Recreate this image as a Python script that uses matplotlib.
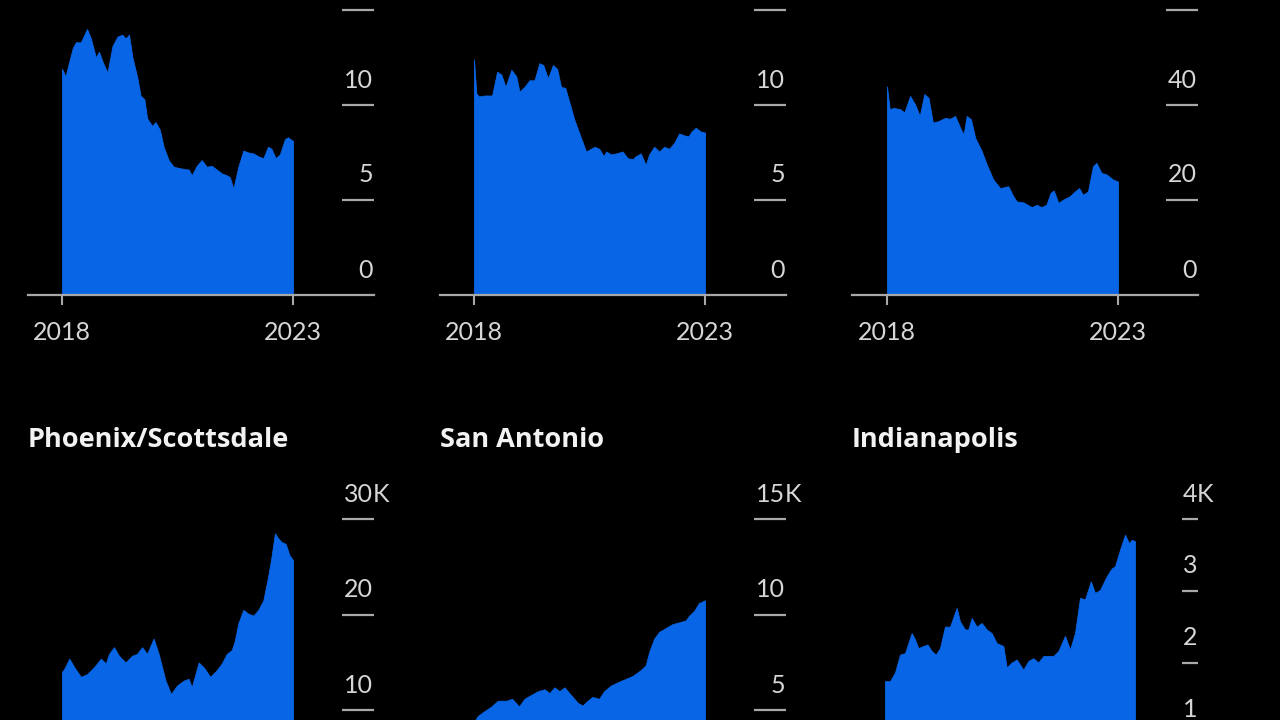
import matplotlib
matplotlib.use("Agg")
import matplotlib.pyplot as plt
import matplotlib.transforms as mtransforms

W, H = 1280, 720
BLUE = '#0866e6'
GRID = '#a8a8a8'
TEXT = '#d6d6d6'

plt.rcParams['font.family'] = ['Lato', 'DejaVu Sans']

# --- datos (meses desde ene-2018, valor) ---
m1 = [0, 0.9, 1.9, 2.8, 3.6, 4.9, 6.5, 7.5, 8.8, 9.6, 10.5, 11.8, 13.1, 14.4, 15.7, 16.5, 17.4,
      18.3, 19.5, 20.4, 21.4, 22.1, 23.4, 24.3, 25.4, 26.4, 27.7, 29.0, 30.7, 32.9, 33.7, 35.0,
      36.3, 37.6, 38.9, 40.2, 41.5, 42.8, 43.6, 44.5, 45.8, 47.1, 48.4, 49.7, 51.0, 52.3, 53.5,
      54.4, 55.5, 56.6, 57.9, 58.7, 60]
v1 = [11.9, 11.5, 12.3, 13.0, 13.3, 13.3, 14.0, 13.5, 12.5, 12.8, 12.3, 11.7, 13.1, 13.6, 13.7,
      13.5, 13.7, 12.5, 11.5, 10.5, 10.3, 9.3, 8.9, 9.1, 8.7, 7.8, 7.1, 6.75, 6.67, 6.6, 6.3,
      6.8, 7.1, 6.75, 6.8, 6.6, 6.4, 6.3, 6.2, 5.6, 6.75, 7.6, 7.5, 7.45, 7.3, 7.2, 7.8, 7.7,
      7.2, 7.4, 8.2, 8.3, 8.1]

m2 = [0, 0.6, 1.3, 2.8, 4.7, 6.0, 7.1, 8.2, 9.7, 11.0, 11.8, 13.1, 14.4, 15.7, 17.0, 18.0, 19.2,
      20.5, 21.6, 22.6, 23.7, 26.1, 29.1, 31.3, 32.5, 33.7, 34.3, 35.6, 36.9, 38.6, 39.9, 41.2,
      42.0, 43.3, 44.6, 45.5, 46.8, 48.1, 49.4, 50.7, 52.0, 53.3, 54.6, 55.7, 56.5, 57.6, 58.9, 60]
v2 = [12.4, 10.6, 10.45, 10.5, 10.5, 11.75, 11.6, 10.95, 11.85, 11.5, 10.7, 10.95, 11.3, 11.3,
      12.2, 12.1, 11.4, 12.1, 11.9, 10.95, 10.9, 9.2, 7.55, 7.8, 7.7, 7.3, 7.55, 7.4, 7.45, 7.55,
      7.2, 7.15, 7.3, 7.45, 6.85, 7.4, 7.8, 7.55, 7.8, 7.7, 8.0, 8.5, 8.4, 8.35, 8.6, 8.8, 8.6, 8.55]

m3 = [0, 0.7, 1.7, 3.5, 4.5, 6.0, 7.3, 8.5, 9.7, 10.8, 11.9, 13.4, 15.1, 16.4, 17.7, 19.0, 19.9,
      20.7, 21.8, 22.9, 24.6, 25.9, 27.6, 29.4, 31.5, 32.8, 33.7, 35.4, 37.6, 38.9, 40.1, 41.4,
      42.5, 43.3, 44.5, 45.8, 47.5, 48.8, 49.9, 50.9, 52.2, 53.5, 54.4, 55.7, 57.0, 58.7, 60]
v3 = [43.9, 39.1, 39.4, 39.1, 38.4, 41.9, 40.1, 37.7, 42.3, 41.5, 36.3, 36.6, 37.3, 37.1, 37.7,
      35.2, 33.8, 37.7, 37.0, 33.1, 30.3, 27.5, 24.3, 22.5, 22.9, 20.8, 19.7, 19.5, 18.5, 19.0,
      18.5, 19.0, 21.5, 22.0, 19.4, 20.1, 20.8, 21.8, 22.5, 21.1, 21.8, 27.1, 27.8, 25.7, 25.4,
      24.3, 23.9]

m4 = [0, 0.6, 1.9, 3.2, 4.9, 6.6, 8.3, 10.1, 11.4, 12.2, 13.5, 14.8, 16.5, 18.2, 19.5, 20.8,
      22.1, 23.8, 25.1, 26.9, 28.3, 29.9, 31.6, 32.9, 33.7, 35.5, 36.8, 38.5, 40.2, 41.5, 42.8,
      44.1, 44.9, 45.8, 47.1, 48.4, 49.7, 51.0, 52.3, 53.5, 54.4, 55.3, 56.1, 57.0, 58.1, 59.1, 60]
v4 = [14.0, 14.35, 15.4, 14.5, 13.5, 13.8, 14.5, 15.4, 14.9, 15.9, 16.6, 15.7, 15.0, 15.7, 15.9,
      16.6, 15.9, 17.5, 15.9, 13.1, 11.7, 12.6, 13.1, 13.3, 12.4, 15.0, 14.5, 13.5, 14.2, 14.9,
      15.9, 16.3, 17.3, 19.1, 20.5, 20.1, 19.9, 20.5, 21.5, 23.9, 26.0, 28.5, 28.0, 27.6, 27.4,
      26.2, 25.7]

m5 = [0, 1.0, 2.3, 4.5, 6.2, 8.4, 9.9, 11.7, 13.1, 14.8, 16.6, 18.3, 19.6, 20.9, 22.2, 23.5,
      25.2, 26.9, 28.2, 29.5, 30.8, 32.5, 33.8, 35.6, 37.7, 39.5, 41.2, 43.3, 44.6, 45.5, 46.8,
      48.1, 49.8, 51.5, 53.3, 55.0, 55.9, 57.2, 58.4, 60]
v5 = [4.4, 4.7, 4.9, 5.2, 5.5, 5.5, 5.6, 5.2, 5.6, 5.8, 6.0, 6.1, 5.9, 6.2, 6.0, 6.2, 5.8, 5.4,
      5.25, 5.5, 5.7, 5.6, 6.0, 6.3, 6.5, 6.65, 6.8, 7.1, 7.35, 8.05, 8.75, 9.1, 9.3, 9.5, 9.6,
      9.7, 9.95, 10.2, 10.6, 10.75]

m6 = [0, 1.2, 2.4, 3.6, 4.8, 6.4, 7.2, 8.0, 9.2, 10.2, 11.2, 12.2, 13.2, 14.4, 15.6, 17.2, 18.0,
      19.2, 20.0, 20.8, 22.0, 23.2, 24.4, 25.6, 26.8, 28.4, 29.2, 30.4, 31.6, 33.2, 34.4, 35.6,
      36.8, 38.0, 39.2, 40.4, 41.6, 43.2, 44.4, 45.6, 46.8, 48.0, 49.4, 50.4, 51.6, 53.2, 54.4,
      55.2, 56.4, 57.6, 58.6, 59.2, 60]
v6 = [1.74, 1.74, 1.86, 2.11, 2.13, 2.41, 2.32, 2.20, 2.23, 2.25, 2.16, 2.11, 2.20, 2.50, 2.50,
      2.76, 2.57, 2.46, 2.46, 2.62, 2.50, 2.55, 2.46, 2.41, 2.27, 2.23, 1.93, 2.00, 2.04, 1.90,
      2.02, 2.06, 2.00, 2.09, 2.09, 2.09, 2.16, 2.37, 2.18, 2.41, 2.90, 2.88, 3.13, 2.97, 3.01,
      3.20, 3.31, 3.34, 3.57, 3.78, 3.66, 3.71, 3.69]

ticks_top = [0, 5, 10, 15]
ticks_top3 = [0, 20, 40, 60]
ticks_phx = [0, 10, 20, 30]
ticks_sat = [0, 5, 10, 15]
ticks_ind = [0, 1, 2, 3, 4]
anios = [2018, 2023]
titulos_abajo = ['Phoenix/Scottsdale', 'San Antonio', 'Indianapolis']

fig = plt.figure(figsize=(W / 100, H / 100), dpi=100, facecolor='black')

PANEL_W = 346


def panel(left, top, bottom, meses, valores, ticks, unidad, off2018, px_anio, stub):
    ax = fig.add_axes([left / W, 1 - bottom / H, PANEL_W / W, (bottom - top) / H])
    ax.set_facecolor('black')
    x = [2018 + mm / 12 for mm in meses]
    ax.fill_between(x, valores, 0, color=BLUE, lw=0.6, ec=BLUE)
    ax.set_xlim(2018 - off2018 / px_anio, 2018 + (PANEL_W - off2018) / px_anio)
    ax.set_ylim(0, ticks[-1])
    for s in ['top', 'right', 'left']:
        ax.spines[s].set_visible(False)
    ax.spines['bottom'].set_color(GRID)
    ax.spines['bottom'].set_linewidth(1.6)
    ax.set_yticks([])
    ax.set_xticks(anios)
    # solo se ven las etiquetas de año si el eje cae dentro de la imagen
    ax.set_xticklabels([str(a) for a in anios] if bottom < H else ['', ''])
    ax.tick_params(axis='x', colors=GRID, length=7, width=1.5, labelcolor=TEXT,
                   labelsize=18, pad=12)
    trans = mtransforms.blended_transform_factory(ax.transAxes, ax.transData)
    trans_txt = mtransforms.offset_copy(trans, fig=fig, x=-1, y=25, units='dots')
    ppu = (bottom - top) / ticks[-1]
    for t in ticks:
        if t > 0:
            ax.plot([1 - stub / PANEL_W, 1], [t, t], transform=trans, color=GRID,
                    lw=1.6, clip_on=False, solid_capstyle='butt')
        ypx = bottom - t * ppu - 25
        if ypx < 8 or ypx > H - 8:
            continue
        ax.text(1, t, f'{t}', transform=trans_txt, ha='right', va='center',
                color=TEXT, fontsize=18, clip_on=False)
        if unidad and t == ticks[-1]:
            ax.text(1, t, unidad, transform=trans_txt, ha='left', va='center',
                    color=TEXT, fontsize=18, clip_on=False)
    return ax


# fila de arriba
panel(28, 10, 295, m1, v1, ticks_top, '', 34, 46.2, 32)
panel(440, 10, 295, m2, v2, ticks_top, '', 34, 46.2, 32)
panel(852, 10, 295, m3, v3, ticks_top3, '', 35, 46.2, 32)

# fila de abajo
panel(28, 519, 806, m4, v4, ticks_phx, 'K', 34, 46.2, 32)
panel(440, 519, 806, m5, v5, ticks_sat, 'K', 34, 46.2, 32)
panel(852, 519, 806, m6, v6, ticks_ind, 'K', 33, 50.0, 16)

for xpx, titulo in zip([28, 440, 852], titulos_abajo):
    fig.text(xpx / W, 1 - 440 / H, titulo, ha='left', va='center', color='#f2f2f2',
             fontsize=19.5, fontweight='bold', family=['Open Sans', 'DejaVu Sans'])

fig.savefig('out.png', dpi=100, facecolor='black')
